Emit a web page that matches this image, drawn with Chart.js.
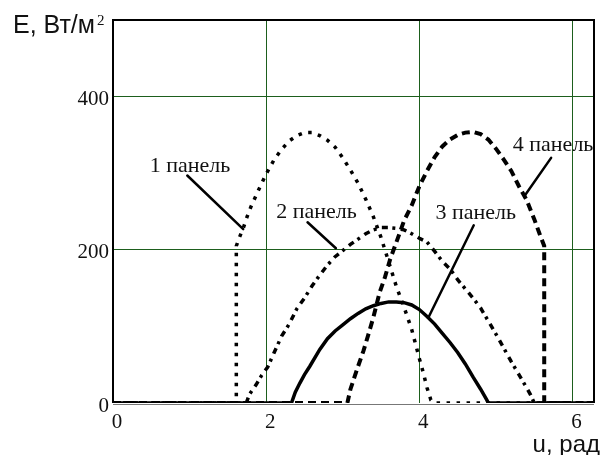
<!DOCTYPE html>
<html lang="ru">
<head>
<meta charset="UTF-8">
<title>Освещённость панелей</title>
<script src="https://cdn.jsdelivr.net/npm/chart.js@4.4.1/dist/chart.umd.min.js"></script>
<style>
    html, body { margin: 0; padding: 0; background: #fff; }
    #wrap { width: 605px; height: 455px; }
</style>
</head>
<body>
<div id="wrap"><canvas id="chart" width="605" height="455"></canvas></div>
<script>
// u, рад / E, Вт/м2 for each panel
const u1 = [0, 1.61, 1.61, 1.65, 1.70, 1.75, 1.80, 1.90, 2.00, 2.10, 2.20, 2.30, 2.40, 2.50, 2.60, 2.70, 2.80, 2.90, 3.00, 3.10, 3.20, 3.30, 3.40, 3.50, 3.60, 3.70, 3.80, 3.90, 4.00, 4.05, 4.10, 4.15, 4.20, 6.28];
const e1 = [0, 0, 205, 216, 228, 243, 256, 278, 299, 317, 331, 342, 349, 353, 353, 349, 343, 334, 320, 304, 287, 266, 243, 216, 184, 152, 125, 96, 58, 40, 20, 4, 0, 0];

const u2 = [0, 1.74, 1.78, 1.87, 1.94, 2.02, 2.10, 2.20, 2.30, 2.40, 2.50, 2.60, 2.70, 2.80, 2.90, 3.00, 3.10, 3.20, 3.30, 3.40, 3.50, 3.60, 3.70, 3.80, 3.90, 4.00, 4.10, 4.20, 4.30, 4.40, 4.50, 4.60, 4.70, 4.80, 4.90, 5.00, 5.10, 5.20, 5.30, 5.40, 5.45, 5.50, 6.28];
const e2 = [0, 0, 11, 24, 36, 47, 65, 87, 103, 123, 137, 153, 167, 180, 191, 199, 207, 214, 221, 226, 229, 229, 228, 226, 221, 215, 210, 198, 185, 175, 161, 149, 137, 124, 107, 90, 72, 54, 37, 20, 11, 0, 0];

const u3 = [0, 2.33, 2.38, 2.44, 2.50, 2.57, 2.70, 2.80, 2.90, 3.00, 3.10, 3.20, 3.30, 3.40, 3.50, 3.60, 3.70, 3.80, 3.90, 4.00, 4.10, 4.20, 4.30, 4.40, 4.50, 4.60, 4.70, 4.80, 4.88, 4.90, 6.28];
const e3 = [0, 0, 14, 26, 37, 48, 70, 84, 94, 102, 110, 117, 123, 127, 130, 132, 132, 131, 128, 122, 113, 103, 91, 79, 66, 51, 34, 18, 4, 0, 0];

const u4 = [0, 3.06, 3.10, 3.15, 3.20, 3.27, 3.33, 3.40, 3.48, 3.55, 3.62, 3.70, 3.80, 3.90, 4.00, 4.10, 4.20, 4.30, 4.40, 4.50, 4.60, 4.70, 4.80, 4.90, 5.00, 5.10, 5.20, 5.30, 5.40, 5.50, 5.58, 5.63, 5.63, 6.28];
const e4 = [0, 0, 18, 33, 48, 68, 88, 112, 144, 164, 188, 210, 238, 258, 283, 303, 321, 335, 344, 350, 353, 354, 351, 344, 332, 318, 303, 283, 265, 240, 218, 205, 0, 0];

const xTicks = [0, 2, 4, 6];
const yTicks = [0, 200, 400];

// label text, text anchor and leader line, in axis units
const notes = [
    { text: '1 панель', at: [0.48, 302], from: [0.97, 297], to: [1.70, 227] },
    { text: '2 панель', at: [2.13, 242], from: [2.54, 236], to: [2.91, 202] },
    { text: '3 панель', at: [4.21, 240], from: [4.71, 232], to: [4.12, 112] },
    { text: '4 панель', at: [5.22, 329], from: [5.72, 320], to: [5.37, 270] }
];

const toPoints = (xs, ys) => xs.map((x, i) => ({ x: x, y: ys[i] }));

const panelNotes = {
    id: 'panelNotes',
    beforeDatasetsDraw(chart) {
        const { ctx, chartArea: a } = chart;
        ctx.save();
        ctx.strokeStyle = '#000';
        ctx.lineWidth = 2;
        ctx.beginPath();
        ctx.moveTo(a.left, a.bottom);
        ctx.lineTo(a.left, a.top);
        ctx.lineTo(a.right, a.top);
        ctx.lineTo(a.right, a.bottom);
        ctx.stroke();
        ctx.strokeStyle = '#777';
        ctx.lineWidth = 1;
        ctx.beginPath();
        ctx.moveTo(a.left, a.bottom + 1.5);
        ctx.lineTo(a.right, a.bottom + 1.5);
        ctx.stroke();
        ctx.restore();
    },
    afterDatasetsDraw(chart) {
        const { ctx, scales: { x, y } } = chart;
        ctx.save();
        ctx.fillStyle = '#111';
        ctx.strokeStyle = '#000';
        ctx.lineWidth = 2.5;
        ctx.lineCap = 'round';
        ctx.textBaseline = 'alphabetic';
        ctx.font = '22px "Liberation Serif"';
        notes.forEach(n => {
            ctx.fillText(n.text, x.getPixelForValue(n.at[0]), y.getPixelForValue(n.at[1]));
            ctx.beginPath();
            ctx.moveTo(x.getPixelForValue(n.from[0]), y.getPixelForValue(n.from[1]));
            ctx.lineTo(x.getPixelForValue(n.to[0]), y.getPixelForValue(n.to[1]));
            ctx.stroke();
        });

        // axis captions
        ctx.font = '25px "Liberation Sans"';
        ctx.fillText('E, Вт/м', 13, 33);
        const w = ctx.measureText('E, Вт/м').width;
        ctx.font = '15px "Liberation Serif"';
        ctx.fillText('2', 13 + w + 2, 25);
        ctx.font = '24px "Liberation Sans"';
        ctx.textAlign = 'right';
        ctx.fillText('u, рад', 600, 452);
        ctx.restore();
    }
};

const gridColor = c => (c.tick && c.tick.value === 0) ? 'rgba(0,0,0,0)' : '#1d5e1d';
const tickFont = { family: 'Liberation Serif', size: 21 };

const line = (label, xs, ys, width, dash) => ({
    label: label,
    data: toPoints(xs, ys),
    borderColor: '#000',
    borderWidth: width,
    borderDash: dash,
    borderCapStyle: 'butt',
    pointRadius: 0,
    fill: false,
    tension: 0
});

new Chart(document.getElementById('chart').getContext('2d'), {
    type: 'line',
    data: {
        datasets: [
            line('3 панель', u3, e3, 3.5, []),
            line('1 панель', u1, e1, 3.5, [3.5, 6.5]),
            line('2 панель', u2, e2, 3.5, [6, 4.5, 3, 5.5]),
            line('4 панель', u4, e4, 4, [8, 5])
        ]
    },
    options: {
        responsive: false,
        animation: false,
        devicePixelRatio: 1,
        layout: { padding: { top: 20, right: 11, left: 0, bottom: 0 } },
        plugins: { legend: { display: false }, tooltip: { enabled: false } },
        scales: {
            x: {
                type: 'linear',
                min: 0,
                max: 6.28,
                afterBuildTicks: s => { s.ticks = xTicks.map(v => ({ value: v })); },
                afterFit: s => { s.height = 52; },
                grid: { color: gridColor, lineWidth: 1, drawTicks: false },
                border: { display: false },
                ticks: { font: tickFont, color: '#111', padding: 7, labelOffset: 4, autoSkip: false, maxRotation: 0 }
            },
            y: {
                type: 'linear',
                min: 0,
                max: 500,
                afterBuildTicks: s => { s.ticks = yTicks.map(v => ({ value: v })); },
                afterFit: s => { s.width = 113; },
                grid: { color: gridColor, lineWidth: 1, drawTicks: false },
                border: { display: false },
                ticks: { font: tickFont, color: '#111', padding: 4, labelOffset: 3, autoSkip: false }
            }
        }
    },
    plugins: [panelNotes]
});
</script>
</body>
</html>
